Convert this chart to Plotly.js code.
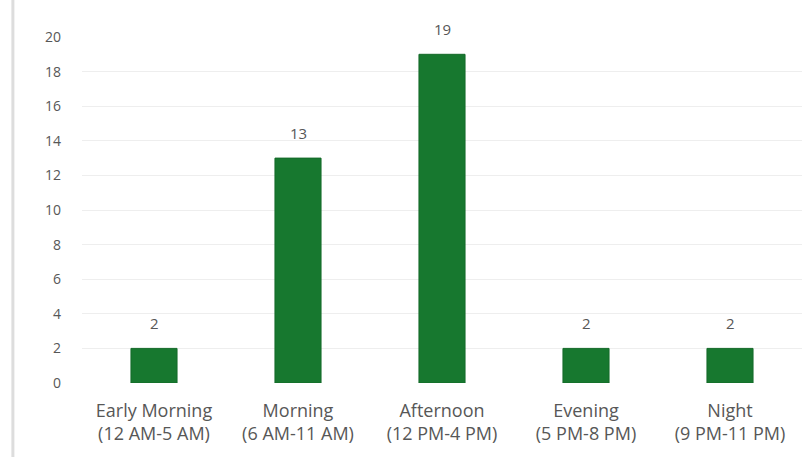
<!DOCTYPE html>
<html>
<head>
<meta charset="utf-8">
<script src="https://cdn.plot.ly/plotly-3.0.1.min.js"></script>
<style>html,body{margin:0;padding:0;background:#fff;}#chart{width:806px;height:457px;}</style>
</head>
<body>
<div id="chart"></div>
<script>
const categories = ["Early Morning<br>(12 AM-5 AM)", "Morning<br>(6 AM-11 AM)", "Afternoon<br>(12 PM-4 PM)", "Evening<br>(5 PM-8 PM)", "Night<br>(9 PM-11 PM)"];
const counts = [2, 13, 19, 2, 2];
const yTicks = [0, 2, 4, 6, 8, 10, 12, 14, 16, 18, 20];

const trace = {
  type: 'bar',
  x: categories,
  y: counts,
  marker: {color: '#17782f', line: {color: '#146a29', width: 1}},
  width: 0.32,
  hoverinfo: 'x+y'
};

const labelAnnotations = categories.map((c, i) => ({
  x: c, y: counts[i], xref: 'x', yref: 'y',
  text: String(counts[i]), showarrow: false,
  yanchor: 'middle', yshift: 25,
  font: {family: '"Open Sans", Lato, sans-serif', size: 15, color: '#575757'}
}));

const layout = {
  width: 806, height: 457,
  margin: {l: 82, r: 4, t: 37, b: 74},
  paper_bgcolor: '#ffffff',
  plot_bgcolor: '#ffffff',
  showlegend: false,
  font: {family: '"Open Sans", Lato, sans-serif', color: '#575757', size: 14},
  xaxis: {
    type: 'category',
    tickfont: {size: 18, color: '#575757'},
    showgrid: false, zeroline: false, showline: false, ticks: '',
    ticklabelstandoff: 15
  },
  yaxis: {
    range: [0, 20],
    tickvals: yTicks,
    ticktext: yTicks.map(String),
    tickfont: {size: 14, color: '#575757'},
    showgrid: true, gridcolor: '#eeeeee', gridwidth: 1,
    zeroline: false, showline: false, ticks: '',
    ticklabelstandoff: 20
  },
  annotations: labelAnnotations,
  shapes: [
    {type: 'line', xref: 'paper', yref: 'paper', x0: -0.096, x1: -0.096, y0: -0.3, y1: 1.2, line: {color: '#dddddd', width: 3}}
  ]
};

Plotly.newPlot('chart', [trace], layout, {displayModeBar: false, staticPlot: true});
</script>
</body>
</html>
